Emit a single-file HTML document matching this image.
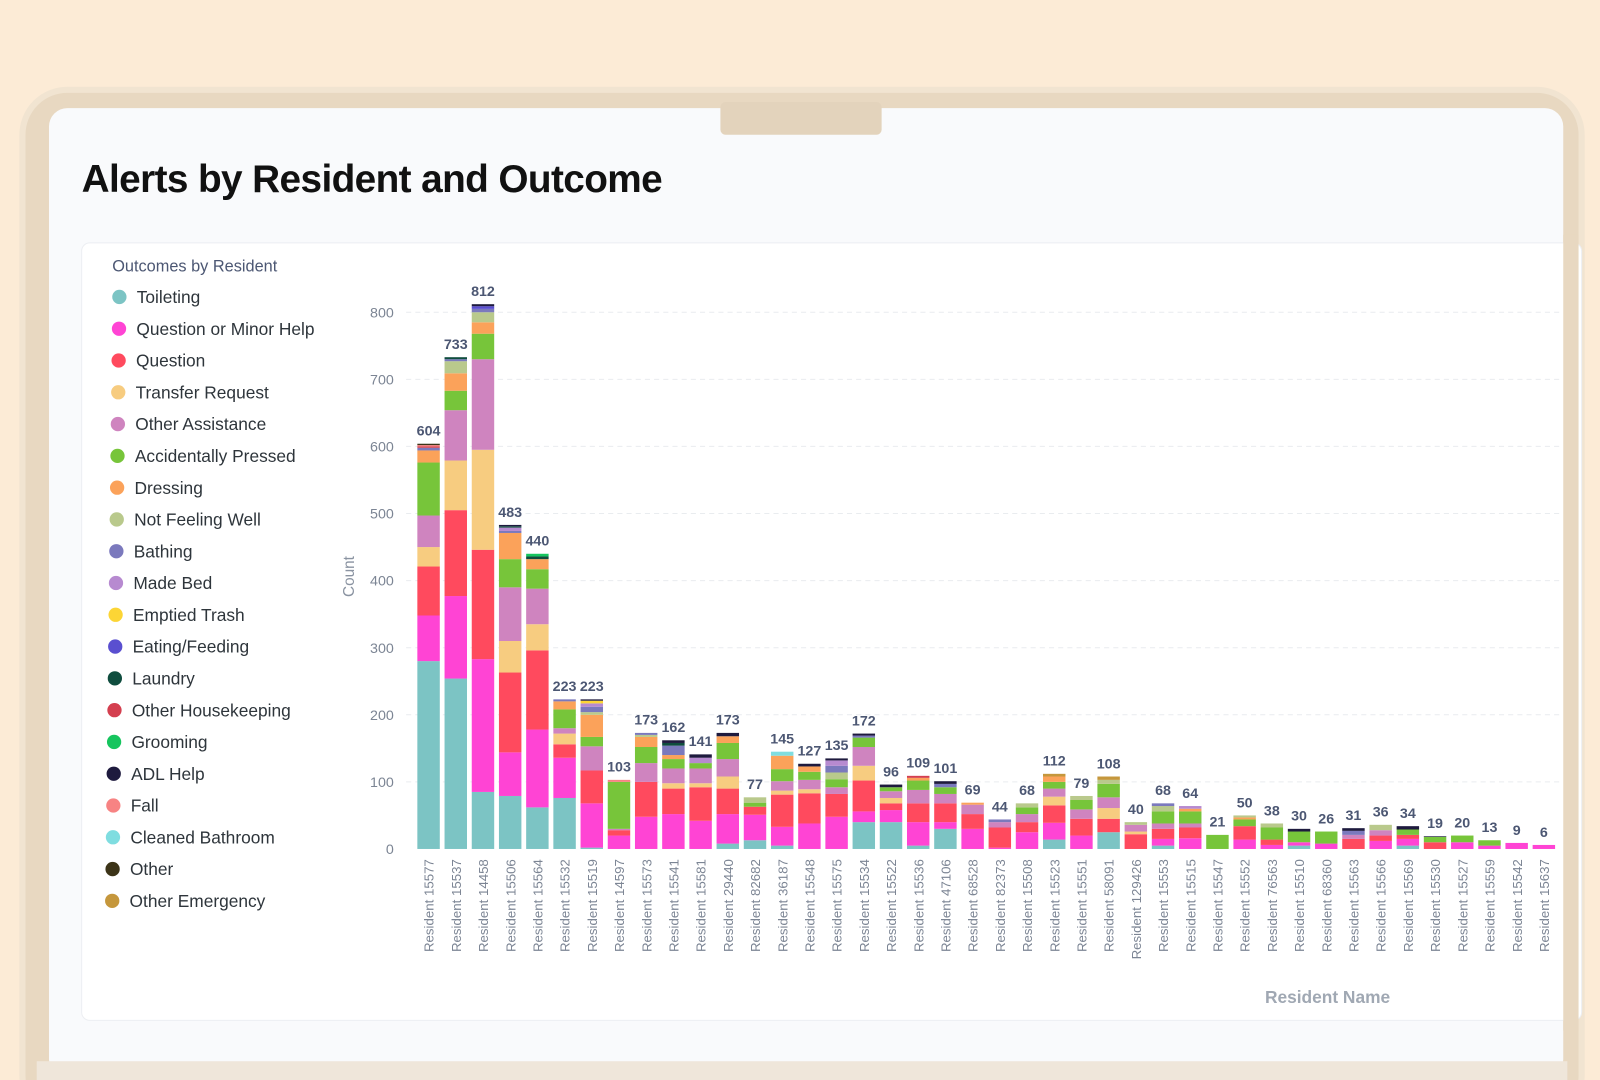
<!DOCTYPE html>
<html><head><meta charset="utf-8"><style>
html,body{margin:0;padding:0;width:1600px;height:1080px;overflow:hidden;background:#fcebd6;font-family:"Liberation Sans",sans-serif}
</style></head><body>
<svg id="chart" width="1600" height="1080" viewBox="0 0 1600 1080" xmlns="http://www.w3.org/2000/svg" style="position:absolute;left:0;top:0">
<g transform="scale(1.0204)">
<rect x="22" y="88" width="1528" height="1010" rx="44" fill="#e8d8c1" stroke="#f1e4d1" stroke-width="6"/>
<rect x="48" y="106" width="1484" height="950" rx="18" fill="#f9fafc"/>
<rect x="36" y="1040" width="1500" height="40" fill="#efe6da"/>
<rect x="706" y="100" width="158" height="32" rx="5" fill="#e3d3bc"/>
<text x="80" y="188" font-size="38" font-weight="bold" fill="#111" letter-spacing="-0.6">Alerts by Resident and Outcome</text>
<rect x="80" y="238" width="1470" height="762" rx="8" fill="#ffffff" stroke="#eceef2"/>
<rect x="1532" y="230" width="15" height="780" fill="#e8d8c1"/>
<g id="plot"></g>
</g>
</svg>
<script>
const residents=["15577","15537","14458","15506","15564","15532","15519","14597","15573","15541","15581","29440","82682","36187","15548","15575","15534","15522","15536","47106","68528","82373","15508","15523","15551","58091","129426","15553","15515","15547","15552","76563","15510","68360","15563","15566","15569","15530","15527","15559","15542","15637"];
const seriesNames=["Toileting","Question or Minor Help","Question","Transfer Request","Other Assistance","Accidentally Pressed","Dressing","Not Feeling Well","Bathing","Made Bed","Emptied Trash","Eating/Feeding","Laundry","Other Housekeeping","Grooming","ADL Help","Fall","Cleaned Bathroom","Other","Other Emergency"];
const seriesColors=["#7cc4c4","#ff44d4","#ff4a5e","#f7cc80","#cf84bf","#77c53a","#fba25a","#b9c98c","#7b79bd","#b78ad0","#fcd535","#5a4fd0","#0f4d3e","#d43f4f","#16c55e","#1e1a3e","#f78383","#7fdde0","#3c3418","#c5973c"];
const yTicks=[0,100,200,300,400,500,600,700,800];
// values per resident, in seriesNames order
const stacks=[
[280,68,73,29,47,79,18,0,4,0,0,0,0,2,0,0,2,0,2,0],
[254,123,128,74,75,29,26,18,3,0,0,0,3,0,0,0,0,0,0,0],
[85,198,163,149,135,38,17,15,5,0,0,4,0,0,0,3,0,0,0,0],
[79,65,119,47,80,42,39,0,3,5,0,0,2,0,0,2,0,0,0,0],
[62,116,118,39,53,29,15,0,0,0,0,0,4,0,4,0,0,0,0,0],
[76,60,20,16,8,28,12,0,3,0,0,0,0,0,0,0,0,0,0,0],
[2,66,49,0,36,14,33,4,8,5,4,0,0,0,0,2,0,0,0,0],
[0,20,8,0,2,70,0,0,0,0,0,0,0,0,0,0,3,0,0,0],
[0,48,52,0,28,24,15,3,3,0,0,0,0,0,0,0,0,0,0,0],
[0,52,38,8,22,14,6,0,14,0,0,0,4,0,0,4,0,0,0,0],
[0,42,50,6,22,8,0,0,0,8,0,0,0,0,0,5,0,0,0,0],
[8,44,38,18,26,24,10,0,0,0,0,0,0,0,0,5,0,0,0,0],
[13,38,12,0,0,6,0,8,0,0,0,0,0,0,0,0,0,0,0,0],
[5,28,48,6,14,18,20,0,0,0,0,0,0,0,0,0,0,6,0,0],
[0,38,45,6,14,12,8,0,0,0,0,0,0,0,0,4,0,0,0,0],
[0,48,34,0,10,12,0,10,10,8,0,0,0,0,0,3,0,0,0,0],
[40,16,46,22,28,14,0,0,3,0,0,0,0,0,0,3,0,0,0,0],
[40,18,10,8,10,6,0,0,0,0,0,0,0,0,0,4,0,0,0,0],
[5,35,28,0,20,14,4,0,0,0,0,0,0,3,0,0,0,0,0,0],
[30,10,28,0,14,10,0,0,5,0,0,0,0,0,0,4,0,0,0,0],
[0,30,22,0,14,0,3,0,0,0,0,0,0,0,0,0,0,0,0,0],
[0,2,30,0,8,0,0,0,4,0,0,0,0,0,0,0,0,0,0,0],
[0,25,15,0,12,10,0,6,0,0,0,0,0,0,0,0,0,0,0,0],
[14,25,26,13,12,10,8,0,0,0,0,0,0,0,0,0,0,0,0,4],
[0,20,25,0,14,14,0,6,0,0,0,0,0,0,0,0,0,0,0,0],
[25,0,20,16,16,20,0,6,0,0,0,0,0,0,0,0,0,0,0,5],
[0,0,22,4,10,0,0,4,0,0,0,0,0,0,0,0,0,0,0,0],
[5,10,15,0,8,18,0,8,4,0,0,0,0,0,0,0,0,0,0,0],
[0,16,16,0,6,18,4,0,0,4,0,0,0,0,0,0,0,0,0,0],
[0,0,0,0,0,21,0,0,0,0,0,0,0,0,0,0,0,0,0,0],
[0,14,20,0,0,10,3,3,0,0,0,0,0,0,0,0,0,0,0,0],
[0,6,8,0,0,18,0,6,0,0,0,0,0,0,0,0,0,0,0,0],
[5,5,0,0,0,16,0,0,0,0,0,0,0,0,0,4,0,0,0,0],
[0,8,0,0,0,18,0,0,0,0,0,0,0,0,0,0,0,0,0,0],
[0,0,15,0,6,0,0,0,6,0,0,0,0,0,0,4,0,0,0,0],
[0,12,8,0,8,0,0,8,0,0,0,0,0,0,0,0,0,0,0,0],
[5,10,6,0,0,8,0,0,0,0,0,0,0,0,0,5,0,0,0,0],
[0,0,10,0,0,8,0,0,0,0,0,0,0,0,0,1,0,0,0,0],
[0,10,0,0,0,10,0,0,0,0,0,0,0,0,0,0,0,0,0,0],
[0,5,0,0,0,8,0,0,0,0,0,0,0,0,0,0,0,0,0,0],
[0,9,0,0,0,0,0,0,0,0,0,0,0,0,0,0,0,0,0,0],
[0,6,0,0,0,0,0,0,0,0,0,0,0,0,0,0,0,0,0,0]
];
const NS="http://www.w3.org/2000/svg";
const g=document.getElementById('plot');
function mk(tag,attrs,text){const e=document.createElementNS(NS,tag);for(const k in attrs)e.setAttribute(k,attrs[k]);if(text!=null)e.textContent=text;g.appendChild(e);return e;}
const y0=832,pxPerUnit=526/800,x0=420,step=(1513-420)/(residents.length-1),bw=22;
const yScale=v=>y0-v*pxPerUnit;
const xScale=i=>x0+i*step;
// legend
let lt=mk('text',{x:110,y:266,'font-size':16,fill:'#4c5773'},'Outcomes by Resident');


seriesNames.forEach((n,i)=>{
  const cy=291+i*31.15,cx=117-i*0.37;
  const c=mk('circle',{cx:cx,cy:cy,r:7,fill:seriesColors[i]});
  
  
  const t=mk('text',{x:cx+17,y:cy+6,'font-size':17,fill:'#2e353b'},n);
  
  
});
// grid & y ticks
yTicks.forEach(v=>{
  const y=yScale(v);
  if(v>0){const l=mk('line',{x1:398,x2:1532,y1:y,y2:y,stroke:'#e9ecef','stroke-dasharray':'5 4'});
  
  }
  const t=mk('text',{x:386,y:y+5,'font-size':14,fill:'#7c8594','text-anchor':'end'},String(v));
  
  
});
const ya=mk('text',{x:347,y:565,'font-size':15,fill:'#8a93a1','text-anchor':'middle',transform:'rotate(-90 347 565)'},'Count');


// bars
stacks.forEach((vals,i)=>{
  let acc=0;const cx=xScale(i);
  vals.forEach((v,s)=>{
    if(!v)return;
    const yt=yScale(acc+v),yb=yScale(acc);
    const r=mk('rect',{x:cx-bw/2,y:yt,width:bw,height:Math.max(yb-yt,0.5),fill:seriesColors[s]});
    
    
    acc+=v;
  });
  const vl=mk('text',{x:cx,y:yScale(acc)-8,'font-size':14,'font-weight':'bold',fill:'#4c5773','text-anchor':'middle'},String(acc));
  
  
  const xl=mk('text',{x:cx+5,y:842,'font-size':13,fill:'#7c8594','text-anchor':'end',transform:`rotate(-90 ${cx+5} 842)`},'Resident '+residents[i]);
  
  
});
const xa=mk('text',{x:1301,y:983,'font-size':17,'font-weight':'bold',fill:'#a0a8b3','text-anchor':'middle'},'Resident Name');


</script>
</body></html>
